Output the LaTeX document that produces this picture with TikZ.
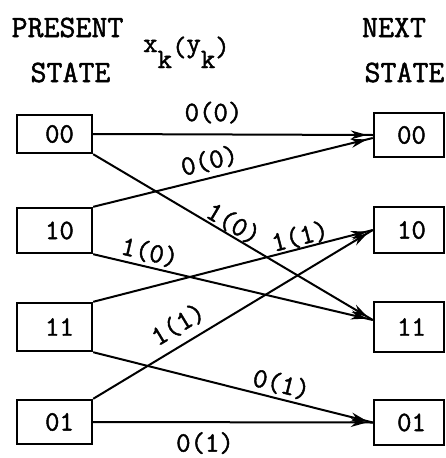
\documentclass[tikz,border=0pt]{standalone}
\usepackage{fontspec}
\usetikzlibrary{arrows.meta,decorations.markings}
% a slightly heavier typewriter face
\newfontfamily\typer[FakeBold=1.6]{Latin Modern Mono}
\begin{document}
\begin{tikzpicture}[x=1pt,y=-1pt,
  every node/.style={font=\typer\fontsize{28}{32}\selectfont},
  heading/.style={font=\typer\fontsize{31}{36}\selectfont, inner sep=0pt, anchor=base},
  statebox/.style={draw, line width=2.4pt, inner sep=0pt},
  leftbox/.style={statebox, minimum width=75pt},
  rightbox/.style={statebox, minimum width=70pt},
  trans/.style={line width=2pt, postaction={decorate},
    decoration={markings, mark=at position -6pt with {\arrow{Stealth[length=16pt,width=9pt,inset=5pt]}}}},
  lbl/.style={sloped, inner sep=0pt}]
\useasboundingbox (0,0) rectangle (445,458);

% column headings
\node[heading] (hpresent) at (67.5,37) {PRESENT};
\node[heading] (hstatel) at (70.5,82) {STATE};
\node[heading] (hnext) at (394,37) {NEXT};
\node[heading] (hstater) at (404.5,82) {STATE};
\node[anchor=base west, inner sep=0pt] (legend) at (143,56)
  {\raisebox{4pt}{x}\raisebox{-12pt}{k}(\raisebox{4pt}{y}\raisebox{-12pt}{k})};

% present states
\node[leftbox, minimum height=38pt] (L00) at (54.5,134) {\hspace*{10pt}00};
\node[leftbox, minimum height=45pt] (L10) at (54.5,230.5) {\hspace*{10pt}10};
\node[leftbox, minimum height=48pt] (L11) at (54.5,327) {\hspace*{10pt}11};
\node[leftbox, minimum height=44pt] (L01) at (54.5,422) {\hspace*{10pt}01};

% next states
\node[rightbox, minimum height=44pt] (R00) at (409,135) {\hspace*{5pt}00};
\node[rightbox, minimum height=46pt] (R10) at (409,230) {\hspace*{5pt}10};
\node[rightbox, minimum height=50pt] (R11) at (409,327) {\hspace*{5pt}11};
\node[rightbox, minimum height=45pt] (R01) at (409,422.5) {\hspace*{5pt}01};

% transitions labelled input(output)
\draw[trans] (L00.east) -- node[lbl, above=10pt, pos=0.43] (t1) {0(0)} (R00.west);
\draw[trans] (L10.north east) -- node[lbl, above=5pt, pos=0.43] (t2) {0(0)} ([yshift=-3pt]R00.west);
\draw[trans] (L00.south east) -- node[lbl, above=0pt, pos=0.48] (t3) {1(0)} ([yshift=7pt]R11.west);
\draw[trans] (L10.south east) -- node[lbl, above=3pt, pos=0.19] (t4) {1(0)} ([yshift=7pt]R11.west);
\draw[trans] (L11.north east) -- node[lbl, above=0pt, pos=0.75] (t5) {1(1)} (R10.west);
\draw[trans] (L01.north east) -- node[lbl, above=8pt, pos=0.34] (t6) {1(1)} (R10.west);
\draw[trans] (L11.south east) -- node[lbl, above=3pt, pos=0.66] (t7) {0(1)} (R01.west);
\draw[trans] (L01.east) -- node[lbl, below=9pt, pos=0.4] (t8) {0(1)} (R01.west);
\end{tikzpicture}
\end{document}
